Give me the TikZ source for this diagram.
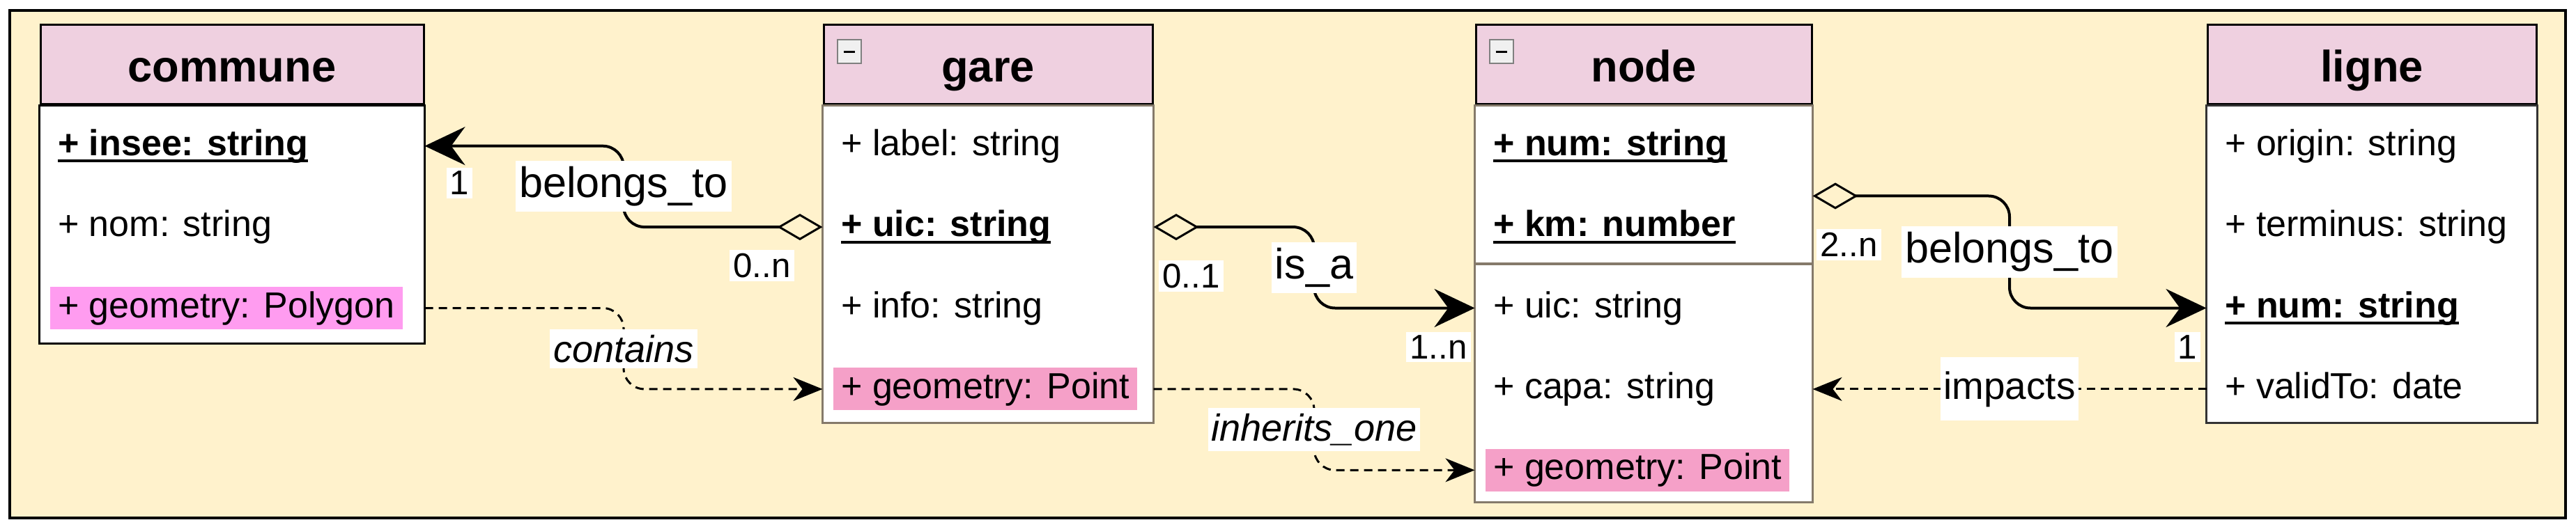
\documentclass[tikz,border=0pt]{standalone}
\usepackage{fontspec}
\setmainfont{Liberation Sans}
\usetikzlibrary{positioning,calc,arrows.meta}

\definecolor{framebg}{HTML}{FFF2CC}
\definecolor{headpink}{HTML}{EFD0E0}
\definecolor{hlmagenta}{HTML}{FF9CF0}
\definecolor{hlpink}{HTML}{F5A0C8}
\definecolor{bodyline}{HTML}{857A6A}

\newlength{\idwidth}
\newcommand{\idattr}[1]{\settowidth{\idwidth}{\textbf{#1}}\rlap{\rule[-0.1cm]{\idwidth}{1.1pt}}\textbf{#1}}

\begin{document}
\begin{tikzpicture}[
        node distance=1mm,
        head/.style={
            rectangle,
            draw=black,
            line width=0.03cm,
            fill=headpink,
            minimum height=1.14cm,
            text height=0.55cm,
            text depth=0.05cm,
            font=\fontsize{18}{20}\selectfont\bfseries,
        },
        body/.style={
            draw=bodyline,
            line width=0.03cm,
            fill=white,
        },
        collapse/.style={
            draw=gray,
            line width=0.02cm,
            fill=gray!12,
            minimum size=0.34cm,
            inner sep=0pt,
        },
        attr/.style={
            inner xsep=0.11cm,
            inner ysep=0.06cm,
            text height=0.38cm,
            text depth=0.11cm,
            font=\fontsize{14.8}{17}\selectfont,
        },
        hl/.style={
            fill=hlpink,
        },
        assoc/.style={
            line width=0.04cm,
            rounded corners=0.3cm,
            arrows={Diamond[open,length=6.5mm,width=3.8mm,line width=0.03cm]-Stealth[length=5.8mm,width=5.5mm,inset=2mm]},
        },
        dep/.style={
            line width=0.03cm,
            dash pattern=on 0.12cm off 0.08cm,
            rounded corners=0.3cm,
            arrows={-Stealth[length=4.2mm,width=3.4mm,inset=1.3mm]},
        },
        rel/.style={
            fill=white,
            sharp corners,
            inner xsep=0.05cm,
            inner ysep=0.08cm,
            font=\fontsize{17.4}{20}\selectfont,
        },
        deplbl/.style={
            rel,
            font=\fontsize{15.4}{18}\selectfont\itshape,
        },
        mult/.style={
            fill=white,
            inner sep=0.05cm,
            font=\fontsize{14}{16}\selectfont,
        },
    ]
        \useasboundingbox (0,0) rectangle (36.97,-7.57);
        \draw[line width=0.04cm, fill=framebg] (0.14,-0.15) rectangle (36.82,-7.44);

        \node [head, minimum width=5.5cm] (commune) at (3.33,-0.93) {commune};
        \node [head, minimum width=4.72cm, right=5.71cm of commune] (gare) {gare};
        \node [head, minimum width=4.82cm, right=4.61cm of gare] (noeud) {node};
        \node [head, minimum width=4.72cm, right=5.65cm of noeud] (ligne) {ligne};

        \draw [body, draw=black] (commune.south west) rectangle ([yshift=-3.42cm]commune.south east);
        \draw [body] (gare.south west) rectangle ([yshift=-4.56cm]gare.south east);
        \draw [body] (noeud.south west) rectangle ([yshift=-5.70cm]noeud.south east);
        \draw [body, draw=black!80] (ligne.south west) rectangle ([yshift=-4.56cm]ligne.south east);
        \draw [body, line width=0.04cm] ([yshift=-2.28cm]noeud.south west) -- ([yshift=-2.28cm]noeud.south east);

        \node [collapse, below right=0.22cm and 0.2cm of gare.north west] (garebtn) {\rule{0.16cm}{0.035cm}};
        \node [collapse, below right=0.22cm and 0.2cm of noeud.north west] (noeudbtn) {\rule{0.16cm}{0.035cm}};

        \node [attr, below right=0.27cm and 0.15cm of commune.south west] (c1) {\idattr{+ insee: string}};
        \node [attr, below right=0.54cm and 0cm of c1.south west] (c2) {+ nom: string};
        \node [attr, fill=hlmagenta, below right=0.54cm and 0cm of c2.south west] (c3) {+ geometry: Polygon};

        \node [attr, below right=0.27cm and 0.15cm of gare.south west] (g1) {+ label: string};
        \node [attr, below right=0.54cm and 0cm of g1.south west] (g2) {\idattr{+ uic: string}};
        \node [attr, below right=0.54cm and 0cm of g2.south west] (g3) {+ info: string};
        \node [attr, hl, below right=0.54cm and 0cm of g3.south west] (g4) {+ geometry: Point};

        \node [attr, below right=0.27cm and 0.15cm of noeud.south west] (n1) {\idattr{+ num: string}};
        \node [attr, below right=0.54cm and 0cm of n1.south west] (n2) {\idattr{+ km: number}};
        \node [attr, below right=0.54cm and 0cm of n2.south west] (n3) {+ uic: string};
        \node [attr, below right=0.54cm and 0cm of n3.south west] (n4) {+ capa: string};
        \node [attr, hl, below right=0.54cm and 0cm of n4.south west] (n5) {+ geometry: Point};

        \node [attr, below right=0.27cm and 0.15cm of ligne.south west] (l1) {+ origin: string};
        \node [attr, below right=0.54cm and 0cm of l1.south west] (l2) {+ terminus: string};
        \node [attr, below right=0.54cm and 0cm of l2.south west] (l3) {\idattr{+ num: string}};
        \node [attr, below right=0.54cm and 0cm of l3.south west] (l4) {+ validTo: date};

        \coordinate (bt1) at ($(gare.west |- g2)!0.5!(commune.east |- c1)$);
        \draw [assoc] (gare.west |- g2) -| (bt1) |- (commune.east |- c1);
        \node [rel] at (bt1) {belongs\_to};
        \node [mult] at ([xshift=0.5cm, yshift=-0.53cm]commune.east |- c1) {1};
        \node [mult] at ([xshift=-0.87cm, yshift=-0.55cm]gare.west |- g2) {0..n};

        \coordinate (ct) at ($(commune.east |- c3)!0.5!(gare.west |- g4)$);
        \draw [dep] (commune.east |- c3) -| (ct) |- (gare.west |- g4);
        \node [deplbl] at (ct) {contains};

        \coordinate (isa) at ($(gare.east |- g2)!0.5!(noeud.west |- n3)$);
        \draw [assoc] (gare.east |- g2) -| (isa) |- (noeud.west |- n3);
        \node [rel] at (isa) {is\_a};
        \node [mult] at ([xshift=0.54cm, yshift=-0.7cm]gare.east |- g2) {0..1};
        \node [mult] at ([xshift=-0.52cm, yshift=-0.56cm]noeud.west |- n3) {1..n};

        \coordinate (inh) at ($(gare.east |- g4)!0.5!(noeud.west |- n5)$);
        \draw [dep] (gare.east |- g4) -| (inh) |- (noeud.west |- n5);
        \node [deplbl] at (inh) {inherits\_one};

        \coordinate (nb) at ([yshift=-1.3cm]noeud.south east);
        \coordinate (bt2) at ($(nb)!0.5!(ligne.west |- l3)$);
        \draw [assoc] (nb) -| (bt2) |- (ligne.west |- l3);
        \node [rel] at (bt2) {belongs\_to};
        \node [mult] at ([xshift=0.52cm, yshift=-0.7cm]nb) {2..n};
        \node [mult] at ([xshift=-0.27cm, yshift=-0.56cm]ligne.west |- l3) {1};

        \draw [dep] (ligne.west |- l4) -- node [rel, inner ysep=0.2cm, font=\fontsize{15.6}{18}\selectfont] {impacts} (noeud.east |- l4);
    \end{tikzpicture}
\end{document}
